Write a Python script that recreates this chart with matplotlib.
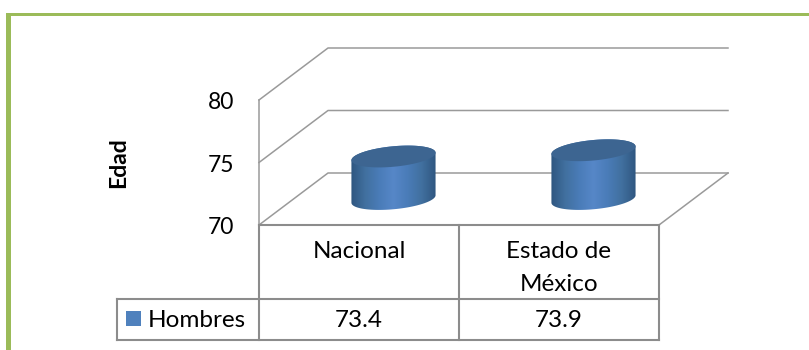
import numpy as np
import matplotlib
matplotlib.use("Agg")
import matplotlib.pyplot as plt
from matplotlib.colors import LinearSegmentedColormap
from matplotlib.patches import Polygon, Rectangle

categories = ["Nacional", "Estado de\nMéxico"]
series_name = "Hombres"
hombres = [73.4, 73.9]
y_ticks = [70, 75, 80]
value_labels = ["73.4", "73.9"]

plt.rcParams['font.family'] = ['Lato', 'DejaVu Sans']

GRID = "#9a9a9a"
TABLE = "#8c8c8c"
GREEN = "#9bbb59"
TOP = "#3d6591"

# one category = 200 px, one year = 12.5 px, zero of the axes at pixel (259, 225)
X_PX = 200.0
Y_PX = 12.5
W, H = 809, 350


def px_x(p):
    return (p - 259) / X_PX


def px_y(p):
    return 70 + (225 - p) / Y_PX


def depth(x, v, d):
    # oblique projection: d=0 front of the chart, d=1 back wall
    return x + d * 69 / X_PX, v + d * 52 / Y_PX


def ellipse(cx, v, n=100):
    t = np.linspace(0, 2 * np.pi, n)
    a = 39.5 / X_PX
    xs = cx + a * np.cos(t)
    ds = 0.5 + 0.21 * np.sin(t)
    return depth(xs, v, ds)


def cylinder(ax, cx, val, cmap):
    xb, yb = ellipse(cx, 70)
    xt, yt = ellipse(cx, val)
    i = np.argmax(xb)
    j = np.argmin(xb)
    # side outline: left junction, down round the bottom, up to the top rim
    order = np.r_[np.arange(j, len(xb) - 1), np.arange(0, i + 1)]
    sx = np.r_[xb[order], xt[i:j + 1]]
    sy = np.r_[yb[order], yt[i:j + 1]]
    side = Polygon(np.c_[sx, sy], closed=True, fc="none", ec="none")
    ax.add_patch(side)
    grad = np.linspace(0, 1, 256).reshape(1, -1)
    im = ax.imshow(grad, cmap=cmap, aspect="auto", zorder=3, interpolation="bilinear",
                   extent=(xb.min(), xb.max(), yb.min(), yt.max()))
    im.set_clip_path(side)
    ax.add_patch(Polygon(np.c_[xt, yt], closed=True, fc=TOP, ec="none", zorder=4))


fig = plt.figure(figsize=(W / 100, H / 100), dpi=100)
ax = fig.add_axes([0, 0, 1, 1])
ax.axis("off")

side_map = LinearSegmentedColormap.from_list(
    "cyl", ["#2f5680", "#41709f", "#4a7cb8", "#5687c8", "#4a7cb8", "#41709f", "#2f5680"])

# green frame, only top and left are visible
ax.add_patch(Rectangle((px_x(6), px_y(350)), px_x(11) - px_x(6), px_y(13) - px_y(350), fc=GREEN, ec="none"))
ax.add_patch(Rectangle((px_x(6), px_y(16)), px_x(809) - px_x(6), px_y(13) - px_y(16), fc=GREEN, ec="none"))

# walls and floor
n = len(categories)
for v in y_ticks:
    xs, ys = zip(depth(0, v, 0), depth(0, v, 1), depth(n, v, 1))
    ax.plot(xs, ys, color=GRID, lw=1.1, zorder=1)
ax.plot([0, 0], [y_ticks[0], y_ticks[-1]], color=GRID, lw=1.1, zorder=1)
xs, ys = zip(depth(n, 70, 0), depth(n, 70, 1))
ax.plot(xs, ys, color=GRID, lw=1.1, zorder=1)

for v in y_ticks:
    ax.text(px_x(234), v - 9 / Y_PX, str(v), ha="right", va="baseline", fontsize=16.5, color="black")
ax.text(px_x(119), px_y(163), "Edad", rotation=90, ha="center", va="center",
        fontsize=16.5, fontweight="bold", color="black")

for i, val in enumerate(hombres):
    cylinder(ax, i + 0.5, val, side_map)

# data table under the chart
y_top, y_mid, y_bot = px_y(225), px_y(298.5), px_y(340)
ax.plot([0, n], [y_top, y_top], color=TABLE, lw=1.5, zorder=2)
for y in (y_mid, y_bot):
    ax.plot([px_x(117), n], [y, y], color=TABLE, lw=1.5, zorder=2)
ax.plot([px_x(117), px_x(117)], [y_mid, y_bot], color=TABLE, lw=1.5, zorder=2)
for k in range(n + 1):
    ax.plot([k, k], [y_top, y_bot], color=TABLE, lw=1.5, zorder=2)

ax.add_patch(Rectangle((px_x(126), px_y(326)), 15 / X_PX, 15 / Y_PX, fc="#4f81bd", ec="none"))
ax.text(px_x(148), px_y(326.7), series_name, ha="left", va="baseline", fontsize=17.5, color="black")
for i, cat in enumerate(categories):
    for j, line in enumerate(cat.split("\n")):
        ax.text(i + 0.5, px_y(258 + 33.5 * j), line, ha="center", va="baseline",
                fontsize=17.5, color="black")
    ax.text(i + 0.5, px_y(326.7), value_labels[i], ha="center", va="baseline", fontsize=17.5, color="black")

ax.set_xlim(px_x(0), px_x(W))
ax.set_ylim(px_y(H), px_y(0))

fig.savefig("out.png", dpi=100)
